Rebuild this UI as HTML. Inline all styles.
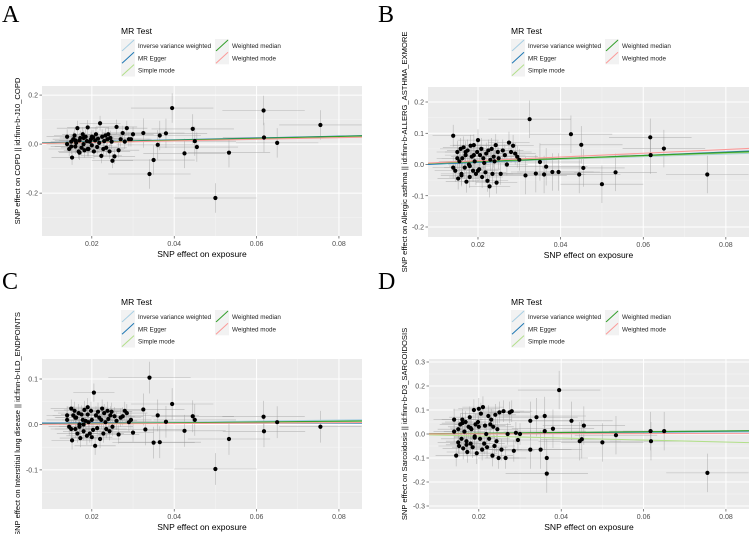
<!DOCTYPE html>
<html><head><meta charset="utf-8"><style>
html,body{margin:0;padding:0;background:#fff}
svg{display:block;font-family:"Liberation Sans",Arial,sans-serif}
</style></head><body>
<svg id="fig" width="752" height="534" viewBox="0 0 752 534" xmlns="http://www.w3.org/2000/svg"></svg>
<script>
// Shared exposure values (cluster SNPs)
const clusterX = [0.014,0.0145,0.015,0.0152,0.0155,0.0158,0.016,0.0162,0.0165,0.0168,0.017,0.0172,0.0175,0.0178,0.018,0.0182,0.0185,0.0188,0.019,0.0192,0.0195,0.0198,0.020,0.0203,0.0205,0.0208,0.021,0.0213,0.0215,0.0218,0.022,0.0223,0.0225,0.0228,0.023,0.0233,0.0235,0.0238,0.024,0.0243,0.0245,0.0248,0.025,0.0255,0.026,0.0265,0.027,0.0275,0.028,0.0285,0.029,0.0295,0.030,0.014,0.015,0.016,0.017,0.018,0.019,0.020];
const clusterYA = [0.03,-0.02,0.01,-0.055,0.02,0.035,-0.01,0.005,0.065,-0.03,0.015,0.025,-0.015,0.04,0.0,-0.025,0.03,0.012,0.068,-0.02,0.01,0.02,-0.005,0.028,-0.03,0.015,0.04,-0.012,0.022,0.005,0.085,-0.048,0.03,-0.02,0.012,0.035,-0.015,0.02,0.04,-0.03,0.025,0.01,-0.068,-0.05,0.07,-0.025,0.02,0.045,0.01,0.065,0.02,0.02,0.04,0.0,-0.01,0.015,-0.035,0.025,-0.02,0.03];
const clusterYB = [0.092,-0.02,0.04,-0.045,0.01,0.05,-0.03,0.02,0.055,-0.01,0.03,-0.055,0.045,0.0,-0.04,0.06,0.025,-0.02,0.062,0.01,-0.03,0.04,0.078,-0.015,0.03,0.05,-0.04,0.02,0.005,-0.025,0.035,-0.052,0.045,-0.07,0.015,0.05,-0.03,0.025,0.01,0.062,-0.058,0.04,0.02,-0.03,0.045,0.03,0.0,0.07,0.04,0.06,0.035,0.025,0.015,-0.01,0.02,-0.035,0.04,-0.005,0.03,-0.02];
const clusterYC = [0.01,-0.005,0.035,-0.035,0.02,0.03,-0.01,0.015,-0.02,0.025,0.0,-0.03,0.022,0.01,-0.015,0.032,0.008,-0.025,0.038,0.005,-0.02,0.03,0.01,-0.012,0.07,-0.047,0.02,-0.008,0.028,0.015,-0.032,0.01,0.035,-0.02,0.025,0.005,-0.01,0.03,0.012,-0.015,0.02,0.028,-0.005,0.018,0.008,-0.022,0.015,0.018,0.03,0.025,0.005,0.01,-0.018,0.02,-0.01,0.015,-0.005,0.0,0.022,-0.028];
const clusterYD = [0.06,-0.09,0.02,-0.05,0.04,-0.02,0.06,-0.06,0.01,0.05,-0.03,-0.075,0.03,0.07,-0.04,0.02,-0.055,0.1,-0.01,0.04,-0.08,0.05,0.105,-0.02,0.085,-0.065,0.112,-0.04,0.035,0.0,-0.055,0.075,-0.02,0.04,0.06,-0.09,0.03,-0.05,0.08,-0.03,0.02,-0.1,0.09,-0.065,0.095,-0.1,0.0,0.09,0.095,-0.07,0.005,-0.025,0.0,0.01,-0.035,0.045,-0.045,0.025,-0.015,0.03];
// Outlying SNPs
const outXA = [0.0395,0.0617,0.0755,0.0445,0.0618,0.065,0.045,0.0455,0.0425,0.0533,0.050,0.034,0.035,0.0365,0.038,0.0325,0.036];
const outYA = [0.147,0.137,0.078,0.062,0.027,0.005,0.012,-0.012,-0.038,-0.035,-0.22,-0.122,-0.065,0.035,0.044,0.045,-0.003];
const outXB = [0.0325,0.0425,0.045,0.0617,0.065,0.0618,0.0755,0.050,0.0533,0.0445,0.0455,0.0395,0.038,0.0365,0.036,0.034,0.035,0.0315];
const outYB = [0.145,0.097,0.063,0.087,0.051,0.03,-0.032,-0.063,-0.025,-0.032,-0.011,-0.024,-0.024,-0.007,-0.032,-0.029,0.008,-0.035];
const outXC = [0.034,0.0395,0.0445,0.045,0.0617,0.0618,0.065,0.0755,0.050,0.0533,0.0425,0.035,0.0365,0.036,0.038,0.0325,0.033];
const outYC = [0.103,0.045,0.018,0.01,0.017,-0.015,0.005,-0.005,-0.098,-0.032,-0.014,-0.04,-0.039,0.02,0.006,0.033,-0.011];
const outXD = [0.0395,0.0365,0.0365,0.0755,0.065,0.0617,0.0618,0.0533,0.050,0.0455,0.0425,0.0445,0.045,0.036,0.036,0.038,0.034,0.0325,0.0325,0.035];
const outYD = [0.183,-0.165,-0.1,-0.162,0.012,0.012,-0.03,-0.005,-0.035,0.035,0.055,-0.03,-0.022,0.075,0.012,0.022,0.07,0.055,-0.065,-0.065];
// MR estimates: [intercept, slope] per method
const methods = ["Inverse variance weighted","MR Egger","Simple mode","Weighted median","Weighted mode"];
const methodColors = ["#a6cee3","#1f78b4","#b2df8a","#33a02c","#fb9a99"];
const estA = [[0,0.40],[0.002,0.38],[0,0.36],[0,0.39],[0,0.33]];
const estB = [[0,0.42],[-0.004,0.55],[0,0.45],[0,0.48],[0,0.60]];
const estC = [[0,0.12],[0.003,0.0],[0,0.08],[0,0.09],[0,0.05]];
const estD = [[0,0.10],[-0.002,0.17],[0,-0.42],[0,0.16],[0,0.03]];
const xTicks = [0.02,0.04,0.06,0.08];
const xTickLabels = ["0.02","0.04","0.06","0.08"];
const yTicksA = [0.2,0.0,-0.2], yLabA = ["0.2","0.0","-0.2"];
const yTicksB = [0.2,0.1,0.0,-0.1,-0.2], yLabB = ["0.2","0.1","0.0","-0.1","-0.2"];
const yTicksC = [0.1,0.0,-0.1], yLabC = ["0.1","0.0","-0.1"];
const yTicksD = [0.3,0.2,0.1,0.0,-0.1,-0.2,-0.3], yLabD = ["0.3","0.2","0.1","0.0","-0.1","-0.2","-0.3"];

const NS="http://www.w3.org/2000/svg";
const svg=document.getElementById('fig');
function mk(tag,attrs,parent){const e=document.createElementNS(NS,tag);for(const k in attrs)e.setAttribute(k,attrs[k]);(parent||svg).appendChild(e);return e;}

const panels=[
 {id:"a",letter:"A",ox:0,oy:0,x0:42,x1:362,y0:86,y1:236,ymin:-0.375,ymax:0.237,yt:yTicksA,yl:yLabA,cy:clusterYA,oxs:outXA,oys:outYA,est:estA,seC:0.03,seO:0.06,lx:121,ly:34,ytitle:"SNP effect on COPD || id:finn-b-J10_COPD",ytx:20},
 {id:"b",letter:"B",ox:376,oy:0,x0:428,x1:749,y0:87,y1:237,ymin:-0.232,ymax:0.248,yt:yTicksB,yl:yLabB,cy:clusterYB,oxs:outXB,oys:outYB,est:estB,seC:0.035,seO:0.06,lx:511,ly:34,ytitle:"SNP effect on Allergic asthma || id:finn-b-ALLERG_ASTHMA_EXMORE",ytx:407},
 {id:"c",letter:"C",ox:0,oy:267,x0:42,x1:362,y0:359,y1:509,ymin:-0.186,ymax:0.144,yt:yTicksC,yl:yLabC,cy:clusterYC,oxs:outXC,oys:outYC,est:estC,seC:0.02,seO:0.035,lx:121,ly:305,ytitle:"SNP effect on Interstitial lung disease || id:finn-b-ILD_ENDPOINTS",ytx:20},
 {id:"d",letter:"D",ox:376,oy:267,x0:429,x1:749,y0:359,y1:509,ymin:-0.3125,ymax:0.3125,yt:yTicksD,yl:yLabD,cy:clusterYD,oxs:outXD,oys:outYD,est:estD,seC:0.045,seO:0.08,lx:511,ly:305,ytitle:"SNP effect on Sarcoidosis || id:finn-b-D3_SARCOIDOSIS",ytx:407}
];
const XMIN=0.0079,XMAX=0.0856;

panels.forEach(p=>{
 const g=mk('g',{});
 
 
 const sx=v=>p.x0+(v-XMIN)/(XMAX-XMIN)*(p.x1-p.x0);
 const sy=v=>p.y1-(v-p.ymin)/(p.ymax-p.ymin)*(p.y1-p.y0);
 const L=mk('text',{x:p.ox+2,y:p.oy+22,'font-size':24,'font-family':'"Liberation Serif",serif',fill:'#000'},g);
 L.textContent=p.letter;
 
 
 const bg=mk('rect',{x:p.x0,y:p.y0,width:p.x1-p.x0,height:p.y1-p.y0,fill:'#ebebeb'},g);
 
 
 const xs=[0.01].concat(xTicks);
 for(let i=0;i<xs.length;i++){const m=xs[i]+0.01;const X=sx(m);if(X>p.x0&&X<p.x1)mk('line',{x1:X,x2:X,y1:p.y0,y2:p.y1,stroke:'#f5f5f5','stroke-width':0.5},g);}
 const st=p.yt[0]-p.yt[1];
 for(let v=p.yt[p.yt.length-1]-st/2;v<p.ymax;v+=st){const Y=sy(v);if(Y>p.y0&&Y<p.y1)mk('line',{x1:p.x0,x2:p.x1,y1:Y,y2:Y,stroke:'#f5f5f5','stroke-width':0.5},g);}
 xTicks.forEach((t,i)=>{const X=sx(t);mk('line',{x1:X,x2:X,y1:p.y0,y2:p.y1,stroke:'#fff','stroke-width':1},g);
  mk('line',{x1:X,x2:X,y1:p.y1,y2:p.y1+2.5,stroke:'#333','stroke-width':0.6},g);
  const t2=mk('text',{x:X,y:p.y1+10,'font-size':7,'text-anchor':'middle',fill:'#4d4d4d'},g);t2.textContent=xTickLabels[i];
  
  });
 p.yt.forEach((t,i)=>{const Y=sy(t);mk('line',{x1:p.x0,x2:p.x1,y1:Y,y2:Y,stroke:'#fff','stroke-width':1},g);
  mk('line',{x1:p.x0-2.5,x2:p.x0,y1:Y,y2:Y,stroke:'#333','stroke-width':0.6},g);
  const t2=mk('text',{x:p.x0-4,y:Y+2.5,'font-size':7,'text-anchor':'end',fill:'#4d4d4d'},g);t2.textContent=p.yl[i];
  
  });
 const clip='clip'+p.id;const cp=mk('clipPath',{id:clip},g);mk('rect',{x:p.x0,y:p.y0,width:p.x1-p.x0,height:p.y1-p.y0},cp);
 const d=mk('g',{'clip-path':'url(#'+clip+')'},g);
 const pts=[];
 clusterX.forEach((x,i)=>{if(p.cy[i]!==undefined)pts.push([x,p.cy[i],0.005,p.seC]);});
 p.oxs.forEach((x,i)=>pts.push([x,p.oys[i],0.01,p.seO]));
 pts.forEach(q=>{mk('line',{x1:sx(q[0]-q[2]),x2:sx(q[0]+q[2]),y1:sy(q[1]),y2:sy(q[1]),stroke:'#999','stroke-width':0.6,'stroke-opacity':0.65},d);
  mk('line',{x1:sx(q[0]),x2:sx(q[0]),y1:sy(q[1]-q[3]),y2:sy(q[1]+q[3]),stroke:'#999','stroke-width':0.6,'stroke-opacity':0.65},d);});
 p.est.forEach((e,i)=>{const l=mk('line',{x1:sx(XMIN),x2:sx(XMAX),y1:sy(e[0]+e[1]*XMIN),y2:sy(e[0]+e[1]*XMAX),stroke:methodColors[i],'stroke-width':1.1},d);
  
  });
 pts.forEach(q=>{const c=mk('circle',{cx:sx(q[0]),cy:sy(q[1]),r:2.1,fill:'#000'},d);
  
  });
 const xt=mk('text',{x:(p.x0+p.x1)/2,y:p.y1+21,'font-size':8.5,'text-anchor':'middle',fill:'#000'},g);xt.textContent='SNP effect on exposure';
 
 
 const yc=(p.y0+p.y1)/2-10;
 const yt=mk('text',{x:0,y:0,'font-size':7.6,'text-anchor':'middle',fill:'#000',transform:'translate('+(p.ytx)+','+yc+') rotate(-90)'},g);yt.textContent=p.ytitle;
 
 
 const lg=mk('g',{},g);
 
 
 const lt=mk('text',{x:p.lx,y:p.ly,'font-size':8.5,fill:'#000'},lg);lt.textContent='MR Test';
 methods.forEach((m,i)=>{const col=i<3?0:1,row=i<3?i:i-3;const kx=p.lx+col*94,ky=p.ly+5+row*12.3;
  mk('rect',{x:kx,y:ky,width:14,height:13,fill:'#f2f2f2'},lg);
  mk('line',{x1:kx+1,y1:ky+12,x2:kx+13,y2:ky+1,stroke:methodColors[i],'stroke-width':1},lg);
  const tx=mk('text',{x:kx+17,y:ky+9,'font-size':6.3,fill:'#222'},lg);tx.textContent=m;
  
  });
});
</script>
</body></html>
